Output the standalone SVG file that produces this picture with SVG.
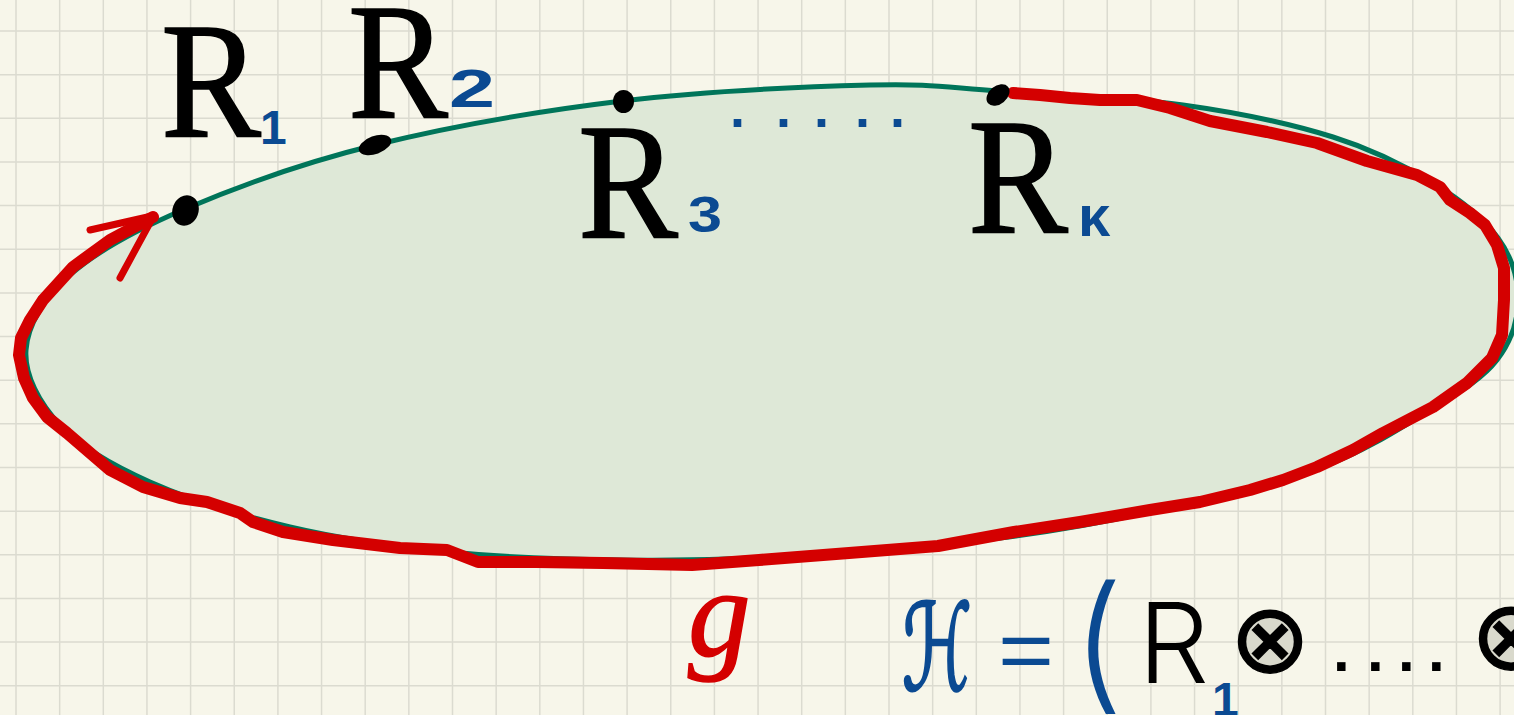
<svg xmlns="http://www.w3.org/2000/svg" width="1514" height="715" viewBox="0 0 1514 715">
<style>
.grid{fill:none;stroke:#000;stroke-opacity:.11;stroke-width:1.5}
.big{font-family:"Liberation Serif",serif;font-size:165px;fill:#000;stroke:#000;stroke-width:1.6}
.sub{font-family:"Liberation Sans",sans-serif;font-weight:700;fill:#0b4a92}
.dot{fill:#000}
.red{fill:none;stroke:#d40000;stroke-linecap:round;stroke-linejoin:round}
.hand{font-family:"Liberation Sans",sans-serif}
</style>
<rect width="1514" height="715" fill="#f7f6ea"/>
<g id="region">
<path id="region-fill" fill="#dee8d7" d="M26,350 C27.7,325 43.5,298.5 70,275 C96.5,251.5 134.2,230.7 185,209 C235.8,187.3 302.2,163 375,145 C447.8,127 539.5,111 622,101 C704.5,91 807,86.7 870,85 C933,83.3 947.8,87.7 1000,91 C1052.2,94.3 1127.5,97.3 1183,105 C1238.5,112.7 1291.3,124 1333,137 C1374.7,150 1405.5,166.2 1433,183 C1460.5,199.8 1483.8,218.5 1498,238 C1512.2,257.5 1518.2,279.7 1518,300 C1517.8,320.3 1510.8,342.2 1497,360 C1483.2,377.8 1464.5,389 1435,407 C1405.5,425 1367.5,450.5 1320,468 C1272.5,485.5 1203.3,500.3 1150,512 C1096.7,523.7 1058.3,530.7 1000,538 C941.7,545.3 863.3,552.3 800,556 C736.7,559.7 678.3,560.7 620,560 C561.7,559.3 505,557.5 450,552 C395,546.5 340,538.7 290,527 C240,515.3 188.3,499 150,482 C111.7,465 80.7,447.2 60,425 C39.3,402.8 24.3,375 26,350 Z"/>
</g>
<path class="grid" d="M16 0V715M59.65 0V715M103.3 0V715M146.95 0V715M190.6 0V715M234.25 0V715M277.9 0V715M321.55 0V715M365.2 0V715M408.85 0V715M452.5 0V715M496.15 0V715M539.8 0V715M583.45 0V715M627.1 0V715M670.75 0V715M714.4 0V715M758.05 0V715M801.7 0V715M845.35 0V715M889 0V715M932.65 0V715M976.3 0V715M1019.95 0V715M1063.6 0V715M1107.25 0V715M1150.9 0V715M1194.55 0V715M1238.2 0V715M1281.85 0V715M1325.5 0V715M1369.15 0V715M1412.8 0V715M1456.45 0V715M1500.1 0V715M0 31H1514M0 74.65H1514M0 118.3H1514M0 161.95H1514M0 205.6H1514M0 249.25H1514M0 292.9H1514M0 336.55H1514M0 380.2H1514M0 423.85H1514M0 467.5H1514M0 511.15H1514M0 554.8H1514M0 598.45H1514M0 642.1H1514M0 685.75H1514"/>
<use href="#region-fill" fill="none" stroke="#00755a" stroke-width="5"/>
<g id="connectors">
<path class="red" stroke-width="12" d="M1013,93 L1040,95 1070,98 1100,100 1137,100 1170,108 1210,121 1267,132 1317,143 1367,161 1417,175 1440,187 1450,200 1470,213 1485,225 1497,245 1504,268 1504,300 1502,335 1492,358 1467,383 1433,407 1383,433 1353,450 1317,467 1283,480 1250,490 1200,502 1150,510 1080,522 1014,532 938,546 849,553 759,560 692,565 603,563 536,562 478,562 447,550 400,548 333,540 283,532 253,522 240,513 207,502 180,498 143,487 110,470 67,433 47,417 33,398 24,378 19,355 21,338 30,320 43,300 73,267 110,240 153,217"/>
<path class="red" stroke-width="7" d="M90,230 L152,216 M120,278 L152,219"/>
</g>
<g id="R1">
<ellipse class="dot" cx="185.5" cy="210.5" rx="13" ry="15.5" transform="rotate(20 185.5 210.5)"/>
<text class="big" x="161" y="137" textLength="100" lengthAdjust="spacingAndGlyphs">R</text>
<text class="sub" x="260" y="144" font-size="48">1</text>
</g>
<g id="R2">
<ellipse class="dot" cx="375" cy="145" rx="17" ry="9" transform="rotate(-20 375 145)"/>
<text class="big" x="348" y="118" textLength="100" lengthAdjust="spacingAndGlyphs">R</text>
<text class="sub" x="449" y="107" font-size="54" textLength="46" lengthAdjust="spacingAndGlyphs">2</text>
</g>
<g id="R3">
<ellipse class="dot" cx="623.5" cy="101.5" rx="10.5" ry="11.5"/>
<text class="big" x="578" y="238" textLength="100" lengthAdjust="spacingAndGlyphs">R</text>
<text class="sub" x="688" y="232" font-size="50" textLength="34" lengthAdjust="spacingAndGlyphs">3</text>
</g>
<g id="ellipsis">
<text class="sub" x="730 776 814 855 890" y="127" font-size="54">.....</text>
</g>
<g id="Rk">
<ellipse class="dot" cx="998" cy="95" rx="13" ry="9" transform="rotate(-40 998 95)"/>
<text class="big" x="968" y="233" textLength="100" lengthAdjust="spacingAndGlyphs">R</text>
<text class="sub" x="1078" y="236" font-size="58">κ</text>
</g>
<g id="g-label">
<text x="688" y="655" font-family="Liberation Serif" font-style="italic" font-size="125" fill="#d40000" stroke="#d40000" stroke-width="1.5">g</text>
</g>
<g id="formula">
<text x="902" y="690" font-family="DejaVu Sans" font-size="120" fill="#0b4a92" stroke="#0b4a92" stroke-width="2.5" textLength="70" lengthAdjust="spacingAndGlyphs">ℋ</text>
<text class="hand" x="998" y="679" font-size="86" fill="#0b4a92" textLength="56" lengthAdjust="spacingAndGlyphs">=</text>
<text x="1072" y="694" font-family="Inter" font-weight="300" font-size="148" fill="#0b4a92">(</text>
<text x="1138" y="683" font-family="Inter" font-weight="300" font-size="112" fill="#000">R</text>
<text class="sub" x="1212" y="716" font-size="48">1</text>
<circle cx="1270" cy="643" r="29" fill="#d9d9cc"/>
<text x="1270" y="672" font-family="DejaVu Sans" font-size="96" text-anchor="middle" fill="#000" stroke="#000" stroke-width="1.5">⊗</text>
<text class="hand" x="1333 1367 1398 1428" y="671" font-size="60" font-weight="700" fill="#000">....</text>
<circle cx="1511" cy="640" r="29" fill="#d9d9cc"/>
<text x="1511" y="669" font-family="DejaVu Sans" font-size="96" text-anchor="middle" fill="#000" stroke="#000" stroke-width="1.5">⊗</text>
</g>
</svg>
